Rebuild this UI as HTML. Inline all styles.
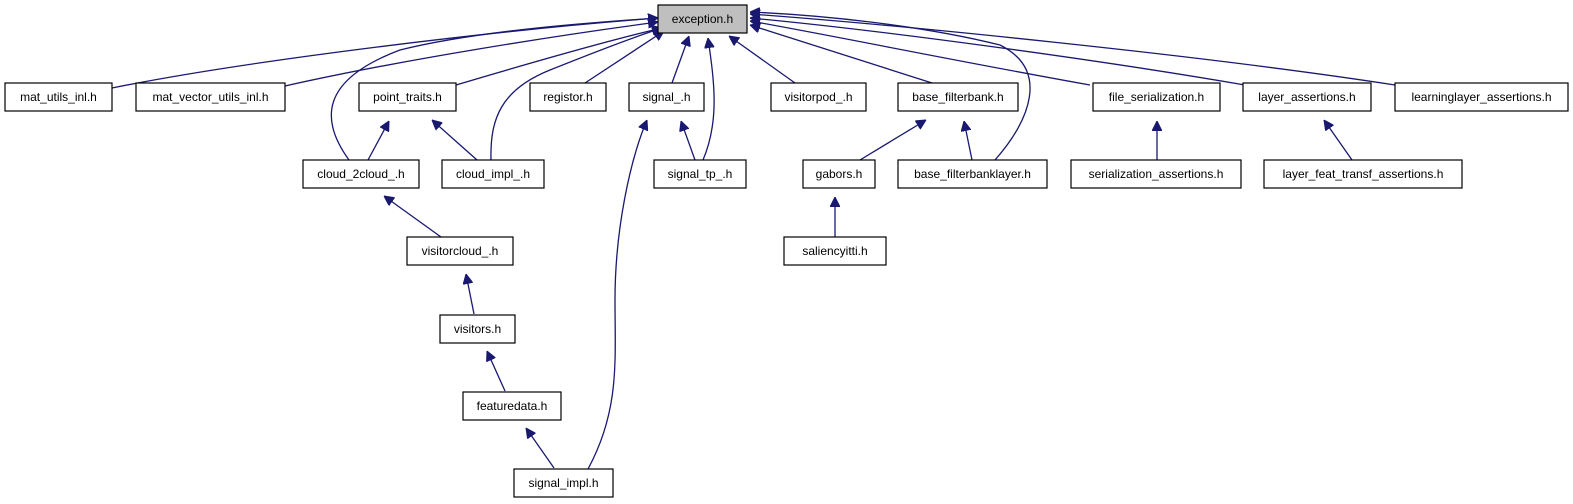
<!DOCTYPE html>
<html><head><meta charset="utf-8"><style>
html,body{margin:0;padding:0;background:#fff;}
svg{display:block;}
text{font-family:"Liberation Sans",sans-serif;font-size:12px;fill:#000;}
rect{fill:#fff;stroke:#000;stroke-width:1.2;}
path{fill:none;stroke:#191970;stroke-width:1.3;}
</style></head><body>
<svg width="1573" height="504" viewBox="0 0 1573 504" xmlns="http://www.w3.org/2000/svg">
<defs>
<marker id="a" viewBox="0 0 10 10" refX="10" refY="5" markerWidth="10" markerHeight="10" markerUnits="userSpaceOnUse" orient="auto">
<path d="M0,0 L10,5 L0,10 z" style="fill:#191970;stroke:#191970;stroke-width:1"/>
</marker>
</defs>
<g marker-end="url(#a)">
<path d="M112,88 C250,60 500,30 658,18"/>
<path d="M285,86 C400,60 560,35 658,22"/>
<path d="M456,85 C540,60 610,40 662,28"/>
<path d="M585,83 L664,31"/>
<path d="M672,83 L689,36"/>
<path d="M795,83 L729,36"/>
<path d="M932,83 L750,25"/>
<path d="M1090,85 C950,60 830,35 750,21"/>
<path d="M1245,85 C1100,60 880,30 750,18"/>
<path d="M1395,85 C1200,55 900,25 750,14"/>
<path d="M349,160 C320,120 320,80 400,50 C480,30 600,22 658,18"/>
<path d="M491,160 C490,120 500,90 550,70 C600,50 640,35 662,28"/>
<path d="M703,160 C720,120 714,80 708,38"/>
<path d="M995,160 C1030,120 1050,70 1000,45 C920,25 820,15 750,12"/>
<path d="M368,160 L389,121"/>
<path d="M477,160 L432,120"/>
<path d="M695,160 L681,121"/>
<path d="M588,469 C620,410 615,360 615,300 C615,230 630,160 647,120"/>
<path d="M860,160 L926,120"/>
<path d="M972,160 L964,121"/>
<path d="M1157,160 L1157,121"/>
<path d="M1352,160 L1324,120"/>
<path d="M441,237 L384,196"/>
<path d="M474,314 L466,274"/>
<path d="M505,391 L487,351"/>
<path d="M554,468 L526,428"/>
<path d="M835,237 L835,197"/>
</g>
<rect x="658" y="5" width="89" height="28" style="fill:#bfbfbf"/><text x="702.5" y="23" text-anchor="middle">exception.h</text>
<rect x="5" y="83" width="107" height="28"/><text x="58.5" y="101" text-anchor="middle">mat_utils_inl.h</text>
<rect x="136" y="83" width="149" height="28"/><text x="210.5" y="101" text-anchor="middle">mat_vector_utils_inl.h</text>
<rect x="359" y="83" width="97" height="28"/><text x="407.5" y="101" text-anchor="middle">point_traits.h</text>
<rect x="530" y="83" width="76" height="28"/><text x="568" y="101" text-anchor="middle">registor.h</text>
<rect x="629" y="83" width="75" height="28"/><text x="666.5" y="101" text-anchor="middle">signal_.h</text>
<rect x="771" y="83" width="95" height="28"/><text x="818.5" y="101" text-anchor="middle">visitorpod_.h</text>
<rect x="898" y="83" width="120" height="28"/><text x="958" y="101" text-anchor="middle">base_filterbank.h</text>
<rect x="1093" y="83" width="127" height="28"/><text x="1156.5" y="101" text-anchor="middle">file_serialization.h</text>
<rect x="1243" y="83" width="128" height="28"/><text x="1307" y="101" text-anchor="middle">layer_assertions.h</text>
<rect x="1395" y="83" width="173" height="28"/><text x="1481.5" y="101" text-anchor="middle">learninglayer_assertions.h</text>
<rect x="303" y="160" width="116" height="28"/><text x="361" y="178" text-anchor="middle">cloud_2cloud_.h</text>
<rect x="442" y="160" width="102" height="28"/><text x="493" y="178" text-anchor="middle">cloud_impl_.h</text>
<rect x="654" y="160" width="92" height="28"/><text x="700" y="178" text-anchor="middle">signal_tp_.h</text>
<rect x="803" y="160" width="72" height="28"/><text x="839" y="178" text-anchor="middle">gabors.h</text>
<rect x="898" y="160" width="149" height="28"/><text x="972.5" y="178" text-anchor="middle">base_filterbanklayer.h</text>
<rect x="1071" y="160" width="170" height="28"/><text x="1156" y="178" text-anchor="middle">serialization_assertions.h</text>
<rect x="1264" y="160" width="198" height="28"/><text x="1363" y="178" text-anchor="middle">layer_feat_transf_assertions.h</text>
<rect x="407" y="237" width="106" height="28"/><text x="460" y="255" text-anchor="middle">visitorcloud_.h</text>
<rect x="784" y="237" width="102" height="28"/><text x="835" y="255" text-anchor="middle">saliencyitti.h</text>
<rect x="440" y="315" width="75" height="28"/><text x="477.5" y="333" text-anchor="middle">visitors.h</text>
<rect x="463" y="392" width="98" height="28"/><text x="512" y="410" text-anchor="middle">featuredata.h</text>
<rect x="514" y="469" width="99" height="28"/><text x="563.5" y="487" text-anchor="middle">signal_impl.h</text>
</svg>
</body></html>
